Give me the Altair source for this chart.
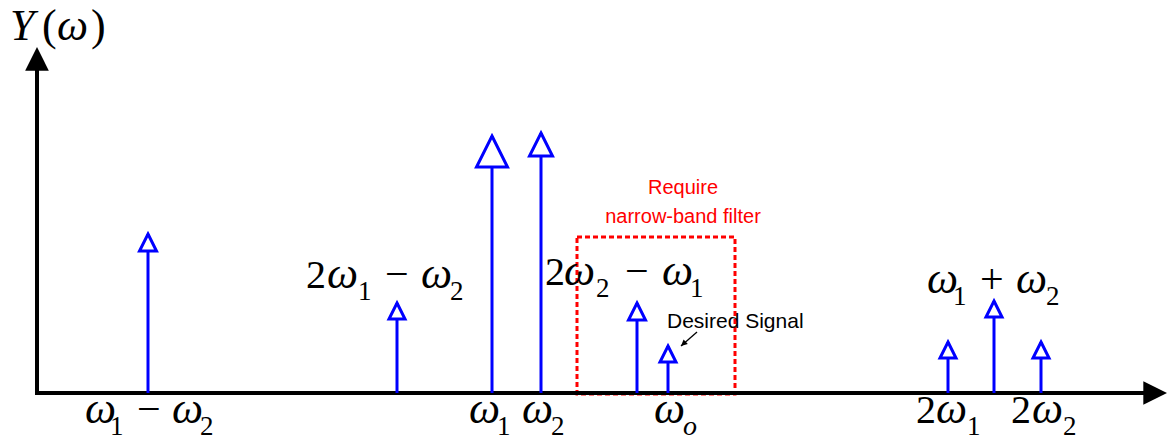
import altair as alt
import pandas as pd

# ---- spectral lines (frequency position, amplitude) ----
line_names = ["ω1−ω2", "2ω1−ω2", "ω1", "ω2", "2ω2−ω1", "ωo", "2ω1", "ω1+ω2", "2ω2"]
line_freq = [11.1, 36.0, 45.5, 50.4, 60.0, 63.1, 91.1, 95.7, 100.4]
line_amp = [15.9, 9.0, 25.7, 26.0, 9.0, 4.7, 5.1, 9.2, 5.1]
head_px = [17, 16, 31, 23, 17, 16, 16, 16, 16]

# ---- math labels, typeset piece by piece (italic symbols, upright digits/operators) ----
piece_text = [
    "Y", "(", "ω", ")",                      # Y(ω)
    "ω", "1", "−", "ω", "2",                 # ω1 − ω2
    "2", "ω", "1", "−", "ω", "2",            # 2ω1 − ω2
    "ω", "1", "ω", "2",                      # ω1  ω2
    "2", "ω", "2", "−", "ω", "1",            # 2ω2 − ω1
    "ω", "o",                                # ωo
    "ω", "1", "+", "ω", "2",                 # ω1 + ω2
    "2", "ω", "1",                           # 2ω1
    "2", "ω", "2",                           # 2ω2
]
piece_x = [
    -2.7, 0.5, 2.0, 5.4,
    4.8, 7.3, 10.0, 13.5, 16.3,
    26.9, 29.0, 32.1, 34.8, 38.4, 41.3,
    43.2, 46.0, 48.5, 51.4,
    50.8, 52.7, 55.9, 58.8, 62.5, 65.3,
    61.7, 64.6,
    89.0, 91.6, 94.3, 97.9, 100.9,
    87.9, 89.9, 93.0,
    97.4, 99.5, 102.6,
]
piece_y = [
    35.3, 35.3, 35.3, 35.3,
    -3.0, -4.2, -3.0, -3.0, -4.2,
    10.5, 10.5, 9.3, 10.5, 10.5, 9.3,
    -3.0, -4.2, -3.0, -4.2,
    10.8, 10.8, 9.6, 10.8, 10.8, 9.6,
    -3.0, -4.2,
    10.0, 8.8, 10.0, 10.0, 8.8,
    -3.0, -3.0, -4.2,
    -3.0, -3.0, -4.2,
]
piece_size = [
    44, 44, 44, 44,
    44, 27, 42, 44, 27,
    40, 44, 27, 42, 44, 27,
    44, 27, 44, 27,
    40, 44, 27, 42, 44, 27,
    44, 28,
    44, 27, 42, 44, 27,
    40, 44, 27,
    40, 44, 27,
]
piece_italic = [ch in ("Y", "ω", "o") for ch in piece_text]

# ---- annotations ----
note_text = ["Require", "narrow-band filter"]
note_x = [64.6, 64.6]
note_y = [19.9, 17.0]

desired_text = ["Desired Signal"]
desired_x = [63.0]
desired_y = [6.5]

box_x = [54.0]
box_x2 = [69.8]
box_y = [-0.1]
box_y2 = [15.6]

X_SCALE = alt.Scale(domain=[-2.9, 113.0], nice=False, zero=False)
Y_SCALE = alt.Scale(domain=[-4.4, 38.5], nice=False, zero=False)


def X(f):
    return alt.X(f"{f}:Q", scale=X_SCALE, axis=None)


def Y(f):
    return alt.Y(f"{f}:Q", scale=Y_SCALE, axis=None)


lines = pd.DataFrame({"name": line_names, "f": line_freq, "a": line_amp,
                      "head": head_px})
lines["zero"] = 0.0

stems = alt.Chart(lines).mark_rule(color="#0000FF", strokeWidth=3).encode(
    x=X("f"), y=Y("a"), y2=alt.Y2("zero"))

heads = alt.Chart(lines).transform_calculate(
    s="datum.head * datum.head"
).mark_point(shape="M0,0L1,2L-1,2Z", filled=True, fill="white",
             stroke="#0000FF", strokeWidth=3, opacity=1).encode(
    x=X("f"), y=Y("a"), size=alt.Size("s:Q", scale=None))

# axes
axes_df = pd.DataFrame({"x": [0.0, 0.0], "y": [0.0, 0.0],
                        "x2": [111.0, 0.0], "y2": [0.0, 33.0]})
axes = alt.Chart(axes_df).mark_rule(color="black", strokeWidth=4,
                                    strokeCap="square").encode(
    x=X("x"), y=Y("y"), x2=alt.X2("x2"), y2=alt.Y2("y2"))

arrows_df = pd.DataFrame({"x": [0.0, 113.0], "y": [34.6, 0.0],
                          "ang": [0, 90]})
axis_arrows = alt.Chart(arrows_df).mark_point(
    shape="M0,0L1,2L-1,2Z", filled=True, color="black", opacity=1,
    size=560, strokeWidth=0).encode(
    x=X("x"), y=Y("y"), angle=alt.Angle("ang:Q", scale=None))

# red dashed box
box_df = pd.DataFrame({"x": box_x, "x2": box_x2, "y": box_y, "y2": box_y2})
box = alt.Chart(box_df).mark_rect(fill="white", fillOpacity=0, stroke="#FF0000",
                                  strokeWidth=3, strokeDash=[5, 3]).encode(
    x=X("x"), x2=alt.X2("x2"), y=Y("y"), y2=alt.Y2("y2"))

# math labels
pieces = pd.DataFrame({"t": piece_text, "x": piece_x, "y": piece_y,
                       "s": piece_size, "it": piece_italic})
labels_it = alt.Chart(pieces).transform_filter("datum.it").mark_text(
    font="Liberation Serif", fontStyle="italic", color="black",
    align="left", baseline="alphabetic").encode(
    x=X("x"), y=Y("y"), text="t:N", size=alt.Size("s:Q", scale=None))
labels_up = alt.Chart(pieces).transform_filter("!datum.it").mark_text(
    font="Liberation Serif", color="black",
    align="left", baseline="alphabetic").encode(
    x=X("x"), y=Y("y"), text="t:N", size=alt.Size("s:Q", scale=None))

notes_df = pd.DataFrame({"t": note_text, "x": note_x, "y": note_y})
notes = alt.Chart(notes_df).mark_text(
    font="Liberation Sans", fontSize=20, color="#FF0000",
    align="center", baseline="alphabetic").encode(
    x=X("x"), y=Y("y"), text="t:N")

desired_df = pd.DataFrame({"t": desired_text, "x": desired_x, "y": desired_y})
desired = alt.Chart(desired_df).mark_text(
    font="Liberation Sans", fontSize=21, color="black",
    align="left", baseline="alphabetic").encode(
    x=X("x"), y=Y("y"), text="t:N")

ptr_df = pd.DataFrame({"x": [66.0], "y": [6.1], "x2": [64.4], "y2": [4.7]})
ptr = alt.Chart(ptr_df).mark_rule(color="black", strokeWidth=1.3).encode(
    x=X("x"), y=Y("y"), x2=alt.X2("x2"), y2=alt.Y2("y2"))
ptr_head = alt.Chart(ptr_df).mark_point(
    shape="M0,0L1,2L-1,2Z", filled=True, color="black", opacity=1,
    size=40, angle=228, strokeWidth=0).encode(x=X("x2"), y=Y("y2"))

chart = alt.layer(
    box, axes, axis_arrows, stems, heads, ptr, ptr_head,
    labels_it, labels_up, notes, desired
).properties(
    width=1159, height=429, padding=0, autosize="none"
).configure_view(stroke=None)

chart.save("out.html", embed_options={"renderer": "svg", "actions": False})
